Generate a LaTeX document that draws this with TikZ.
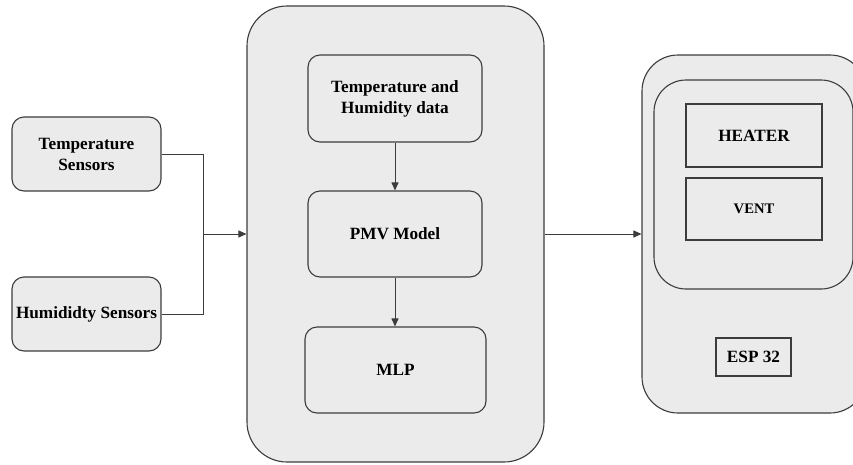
\documentclass[tikz,border=0pt]{standalone}
\usepackage{fontspec}
\setmainfont{Liberation Serif}
\usetikzlibrary{arrows.meta}
\definecolor{boxfill}{HTML}{EBEBEB}
\definecolor{boxline}{HTML}{3C3C3C}
\tikzset{
  box/.style={draw=boxline, fill=boxfill, line width=1.1pt, rounded corners=12pt, inner sep=0pt, align=center, font=\fontsize{17.2}{21}\selectfont\bfseries},
  sqbox/.style={draw=boxline, fill=boxfill, line width=1.3pt, inner sep=0pt, align=center, font=\fontsize{17.2}{21}\selectfont\bfseries},
  conn/.style={draw=boxline, line width=0.9pt},
  arr/.style={conn, -{Triangle[length=8pt, width=7pt]}}
}
\begin{document}
\begin{tikzpicture}[x=1pt, y=-1pt]
\useasboundingbox (0,0) rectangle (853,464);
\fill[white] (0,0) rectangle (853,464);
\clip (0,0) rectangle (853,464);
% left sensors
\node[box, minimum width=149pt, minimum height=74pt] (ts) at (86.5,154) {Temperature\\Sensors};
\node[box, minimum width=149pt, minimum height=74pt] (hs) at (86.5,314) {Humididty Sensors};
% big middle box
\node[box, rounded corners=40pt, minimum width=297pt, minimum height=456pt] (big) at (395.5,234) {};
\node[box, minimum width=174pt, minimum height=87pt] (thd) at (395,98.5) {Temperature and\\Humidity data};
\node[box, minimum width=174pt, minimum height=86pt] (pmv) at (395,234) {PMV Model};
\node[box, minimum width=181pt, minimum height=86pt] (mlp) at (395.5,370) {MLP};
% right box
\node[box, rounded corners=36pt, minimum width=224pt, minimum height=358pt] (esp) at (754,234) {};
\node[box, rounded corners=32pt, minimum width=199pt, minimum height=209pt] (act) at (753.5,184.5) {};
\node[sqbox, minimum width=136pt, minimum height=63pt] (heat) at (754,135.5) {HEATER};
\node[sqbox, minimum width=136pt, minimum height=62pt, font=\fontsize{14.6}{18}\selectfont\bfseries] (vent) at (754,209) {VENT};
\node[sqbox, minimum width=75pt, minimum height=38pt] (chip) at (753.5,357) {ESP 32};
% connectors
\coordinate (j) at (203,234);
\draw[conn] (ts.east) -| (j);
\draw[conn] (hs.east) -| (j);
\draw[arr] (j) -- (big.west);
\draw[arr] (thd.south) -- (pmv.north);
\draw[arr] (pmv.south) -- (pmv.south |- mlp.north);
\draw[arr] (big.east) -- (esp.west);
\end{tikzpicture}
\end{document}
